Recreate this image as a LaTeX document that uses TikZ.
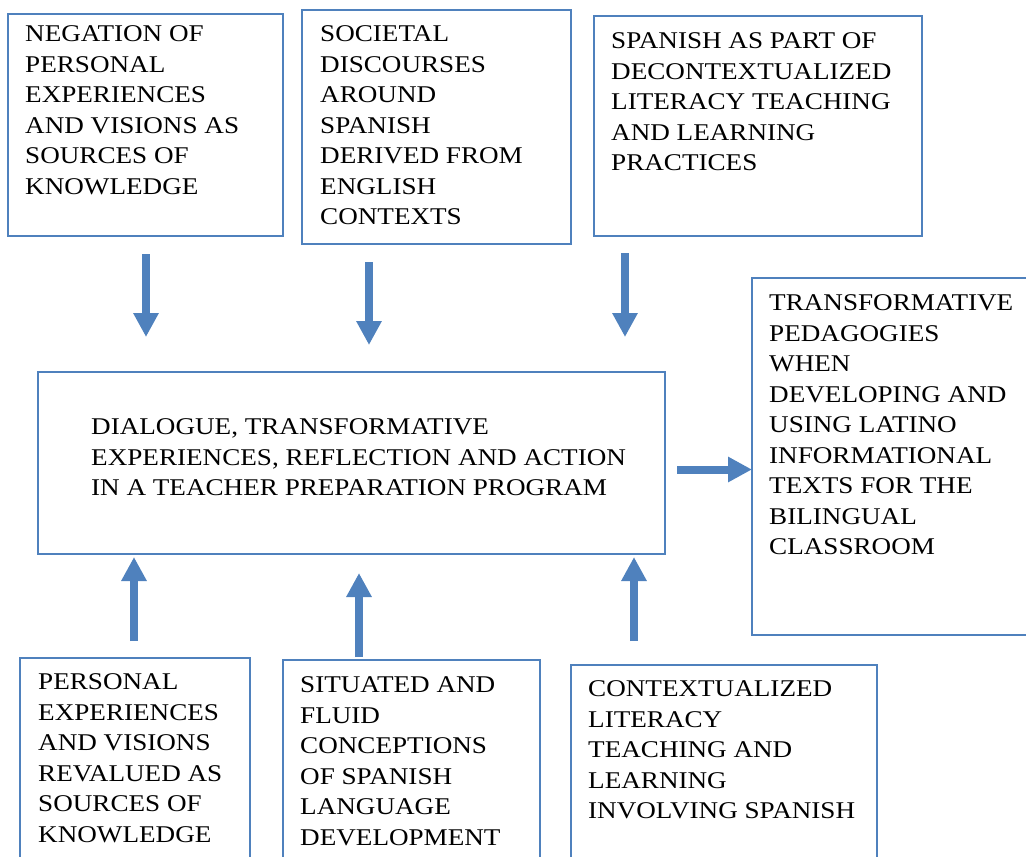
\documentclass[tikz,border=0pt]{standalone}
\usepackage{fontspec}
\setmainfont{Liberation Serif}[FakeStretch=1.13]
\usetikzlibrary{arrows.meta}
\definecolor{wblue}{RGB}{79,129,189}
\begin{document}
\begin{tikzpicture}[x=1pt,y=-1pt,
  box/.style={draw=wblue,line width=1.6pt,anchor=north west,inner sep=0pt,outer sep=0pt},
  lbl/.style={anchor=north west,inner sep=0pt,align=left,font=\fontsize{24}{30.5}\selectfont},
  fat/.style={draw=wblue,line width=8pt,-{Triangle[width=24pt,length=24pt]}}]
\useasboundingbox (0,0) rectangle (1026,857);
\begin{scope}
\clip (0,0) rectangle (1026,857);
% boxes
\node[box,minimum width=275pt,minimum height=222pt] (b1) at (8,14) {};
\node[box,minimum width=269pt,minimum height=234pt] (b2) at (302,10) {};
\node[box,minimum width=328pt,minimum height=220pt] (b3) at (594,16) {};
\node[box,minimum width=288pt,minimum height=357pt] (br) at (752,278) {};
\node[box,minimum width=627pt,minimum height=182pt] (bc) at (38,372) {};
\node[box,minimum width=230pt,minimum height=215pt] (b4) at (20,658) {};
\node[box,minimum width=257pt,minimum height=215pt] (b5) at (283,660) {};
\node[box,minimum width=306pt,minimum height=215pt] (b6) at (571,665) {};
\end{scope}
% labels
\node[lbl] (t1) at (25,25.6) {NEGATION OF\\PERSONAL\\EXPERIENCES\\AND VISIONS AS\\SOURCES OF\\KNOWLEDGE};
\node[lbl] (t2) at (320,25.6) {SOCIETAL\\DISCOURSES\\AROUND\\SPANISH\\DERIVED FROM\\ENGLISH\\CONTEXTS};
\node[lbl] (t3) at (611,32.6) {SPANISH AS PART OF\\DECONTEXTUALIZED\\LITERACY TEACHING\\AND LEARNING\\PRACTICES};
\node[lbl] (tr) at (769,294.6) {TRANSFORMATIVE\\PEDAGOGIES\\WHEN\\DEVELOPING AND\\USING LATINO\\INFORMATIONAL\\TEXTS FOR THE\\BILINGUAL\\CLASSROOM};
\node[lbl] (tc) at (91,418.6) {DIALOGUE, TRANSFORMATIVE\\EXPERIENCES, REFLECTION AND ACTION\\IN A TEACHER PREPARATION PROGRAM};
\node[lbl] (t4) at (38,673.6) {PERSONAL\\EXPERIENCES\\AND VISIONS\\REVALUED AS\\SOURCES OF\\KNOWLEDGE};
\node[lbl] (t5) at (300,676.6) {SITUATED AND\\FLUID\\CONCEPTIONS\\OF SPANISH\\LANGUAGE\\DEVELOPMENT};
\node[lbl] (t6) at (588,680.6) {CONTEXTUALIZED\\LITERACY\\TEACHING AND\\LEARNING\\INVOLVING SPANISH};
% arrow ends
\coordinate (d1s) at (146,254); \coordinate (d1e) at (146,337);
\coordinate (d2s) at (369,262); \coordinate (d2e) at (369,345);
\coordinate (d3s) at (625,253); \coordinate (d3e) at (625,337);
\coordinate (u1s) at (134,641); \coordinate (u1e) at (134,557);
\coordinate (u2s) at (359,657); \coordinate (u2e) at (359,573);
\coordinate (u3s) at (634,641); \coordinate (u3e) at (634,557);
\coordinate (rs) at (677,469.5);
\draw[fat] (d1s) -- (d1e);
\draw[fat] (d2s) -- (d2e);
\draw[fat] (d3s) -- (d3e);
\draw[fat] (u1s) -- (u1e);
\draw[fat] (u2s) -- (u2e);
\draw[fat] (u3s) -- (u3e);
\draw[fat] (rs) -- (br.west |- rs);
\end{tikzpicture}
\end{document}
